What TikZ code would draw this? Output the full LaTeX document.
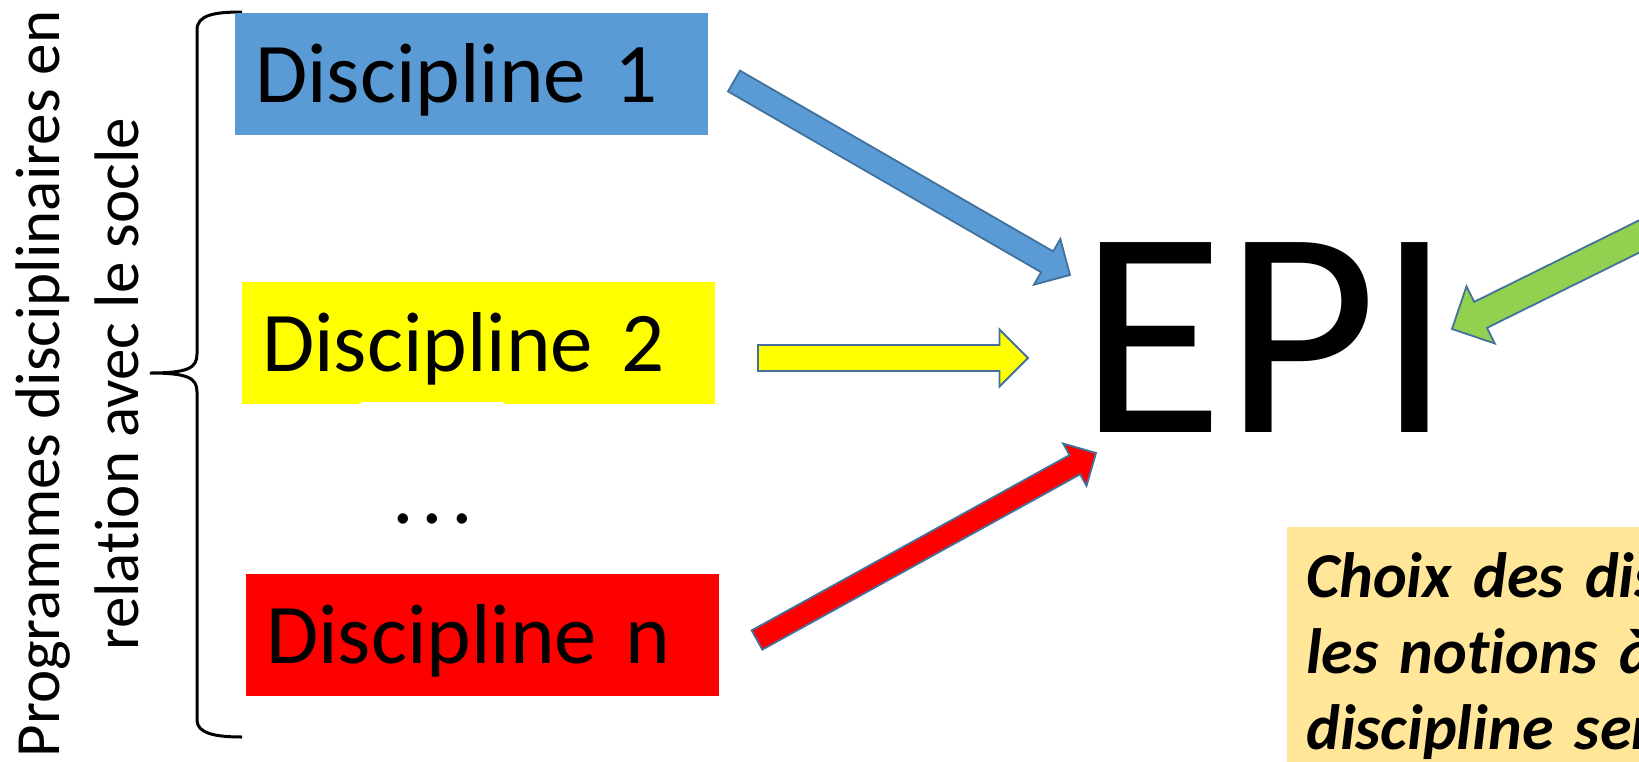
\documentclass[tikz,border=0pt]{standalone}
\usepackage{fontspec}
\setmainfont{Carlito}[Ligatures=NoCommon]
\usetikzlibrary{calc}

\definecolor{discblue}{HTML}{5B9BD5}
\definecolor{discyellow}{HTML}{FFFF00}
\definecolor{discred}{HTML}{FF0000}
\definecolor{epigreen}{HTML}{92D050}
\definecolor{arrowline}{HTML}{41719C}
\definecolor{choixfill}{HTML}{FFE699}

\tikzstyle{disc} = [anchor=north west, inner xsep=20pt, inner ysep=0pt, text width=433pt, align=left,
                    minimum height=122pt, text height=70pt, text depth=14pt, font=\fontsize{85}{100}\selectfont]
\tikzstyle{dotsbox} = [anchor=north west, fill=white, minimum width=143pt, inner sep=0pt,
                       text height=121pt, text depth=20pt, font=\fontsize{86}{100}\selectfont]
\tikzstyle{choix} = [anchor=north west, fill=choixfill, inner xsep=19pt, inner ysep=0pt, text width=400pt,
                     align=left, text height=70pt, text depth=200pt,
                     font=\fontsize{64}{76}\selectfont\bfseries\itshape]
\tikzstyle{bracestroke} = [line width=3pt]
\tikzstyle{fatline} = [draw=arrowline, line width=1.8pt, line join=miter]

% block arrow: tail, tip, colour, shaft width
\newcommand{\fatarrow}[4]{%
  \pgfmathsetmacro\shafthw{0.5*#4}%
  \pgfmathsetmacro\headhw{1.1*#4}%
  \pgfmathsetmacro\headlen{1.1*#4}%
  \coordinate (neck) at ($(#2)!\headlen pt!(#1)$);
  \draw[fatline, fill=#3] ($(#1)!\shafthw pt!90:(#2)$) -- ($(neck)!\shafthw pt!-90:(#1)$)
    -- ($(neck)!\headhw pt!-90:(#1)$) -- (#2) -- ($(neck)!\headhw pt!90:(#1)$)
    -- ($(neck)!\shafthw pt!90:(#1)$) -- ($(#1)!\shafthw pt!-90:(#2)$) -- cycle;
}

\begin{document}
\begin{tikzpicture}[x=1pt, y=-1pt]
  \useasboundingbox (0,0) rectangle (1639,761);
  \clip (0,0) rectangle (1639,761);

  \node[rotate=90, align=center, font=\fontsize{63}{79}\selectfont] (prog) at (77,384)
    {Programmes disciplinaires en\\relation avec le socle};
  \draw[bracestroke] (242,12) .. controls (214,12) and (197,15) .. (197,30) -- (197,354)
    .. controls (197,368) and (188,373) .. (150,373) .. controls (188,373) and (197,378) .. (197,392)
    -- (197,720) .. controls (197,733) and (214,737) .. (242,737);

  \foreach \name/\x/\y/\col/\num in {disc1/235/13/discblue/1, disc2/242/282/discyellow/2}
    \node[disc, fill=\col] (\name) at (\x,\y) {Discipline \num};
  \node[dotsbox] (dots) at (361,402) {.\kern8pt.\kern8pt.};
  \node[disc, fill=discred] (discn) at (246,574) {Discipline n};

  \node[anchor=base, inner sep=0pt, font=\fontsize{296}{296}\selectfont] (epi) at (1266,432) {EPI};
  \node[choix] (choix) at (1287,527) {Choix des dis\\les notions à\\discipline ser};

  \coordinate (a1) at (734,81);   \coordinate (t1) at (1070,275);
  \coordinate (a2) at (758,358);  \coordinate (t2) at (1028,358);
  \coordinate (an) at (757,640);  \coordinate (tn) at (1096,453);
  \coordinate (ag) at (1721,196); \coordinate (tg) at (1452,329);
  \fatarrow{a1}{t1}{discblue}{24}
  \fatarrow{a2}{t2}{discyellow}{26}
  \fatarrow{an}{tn}{discred}{22}
  \fatarrow{ag}{tg}{epigreen}{29}
\end{tikzpicture}
\end{document}
